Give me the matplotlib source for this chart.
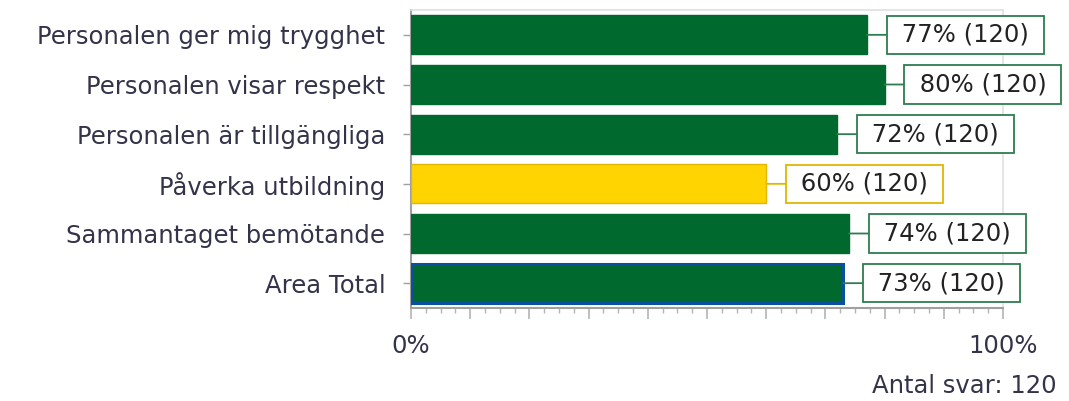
import matplotlib
matplotlib.use("Agg")
import matplotlib.pyplot as plt
from matplotlib.ticker import MultipleLocator, FuncFormatter

categories = ["Personalen ger mig trygghet", "Personalen visar respekt",
              "Personalen är tillgängliga", "Påverka utbildning",
              "Sammantaget bemötande", "Area Total"]
values = [77, 80, 72, 60, 74, 73]
counts = [120, 120, 120, 120, 120, 120]
bar_colors = ["#006a2e", "#006a2e", "#006a2e", "#ffd400", "#006a2e", "#006a2e"]
edge_colors = ["#006a2e", "#006a2e", "#006a2e", "#e0b800", "#006a2e", "#0a4fa0"]
box_edges = ["#2e7d4f", "#2e7d4f", "#2e7d4f", "#e0b800", "#2e7d4f", "#2e7d4f"]
total_answers = 120

text_col = "#33334a"
fs = 17.5

fig = plt.figure(figsize=(10.69, 4.01), dpi=100)
ax = fig.add_axes([411 / 1069, 93 / 401, 592 / 1069, 298 / 401])

ypos = list(range(len(categories)))
for i, (v, c, e) in enumerate(zip(values, bar_colors, edge_colors)):
    lw = 2.2 if i == len(categories) - 1 else 1.0
    ax.barh(i, v, height=0.79, color=c, edgecolor=e, linewidth=lw, zorder=3)
    ax.annotate(f" {v}% ({counts[i]}) ", xy=(v, i), xytext=(19.5, 0),
                textcoords="offset points", ha="left", va="center",
                fontsize=fs, color="#222222",
                bbox=dict(boxstyle="square,pad=0.3", fc="white",
                          ec=box_edges[i], lw=1.3),
                arrowprops=dict(arrowstyle="-", color=box_edges[i], lw=1.3,
                                shrinkA=0, shrinkB=0),
                zorder=4, annotation_clip=False)

ax.set_xlim(0, 100)
ax.set_ylim(len(categories) - 0.5, -0.5)
ax.set_yticks(ypos)
ax.set_yticklabels(categories, fontsize=fs, color=text_col)
ax.xaxis.set_major_locator(MultipleLocator(10))
ax.xaxis.set_minor_locator(MultipleLocator(2.5))
ax.xaxis.set_major_formatter(FuncFormatter(
    lambda x, p: f"{x:.0f}%" if round(x) in (0, 100) else ""))

for s in ["left", "bottom"]:
    ax.spines[s].set_color("#a0a0a0")
    ax.spines[s].set_linewidth(1.5)
for s in ["top", "right"]:
    ax.spines[s].set_color("#e0e0e0")
    ax.spines[s].set_linewidth(1.2)

ax.tick_params(axis="y", length=5.5, width=1, color="#a0a0a0", pad=13,
               labelsize=fs, labelcolor=text_col)
ax.tick_params(axis="x", which="major", length=8, width=1.2, color="#b4b4b4",
               pad=11, labelsize=fs, labelcolor=text_col)
ax.tick_params(axis="x", which="minor", length=3.5, width=1, color="#b4b4b4")

fig.text(1057 / 1069, 1 - 386 / 401, f"Antal svar: {total_answers}", ha="right",
         va="center", fontsize=fs, color=text_col)

fig.savefig("out.png", dpi=100)
